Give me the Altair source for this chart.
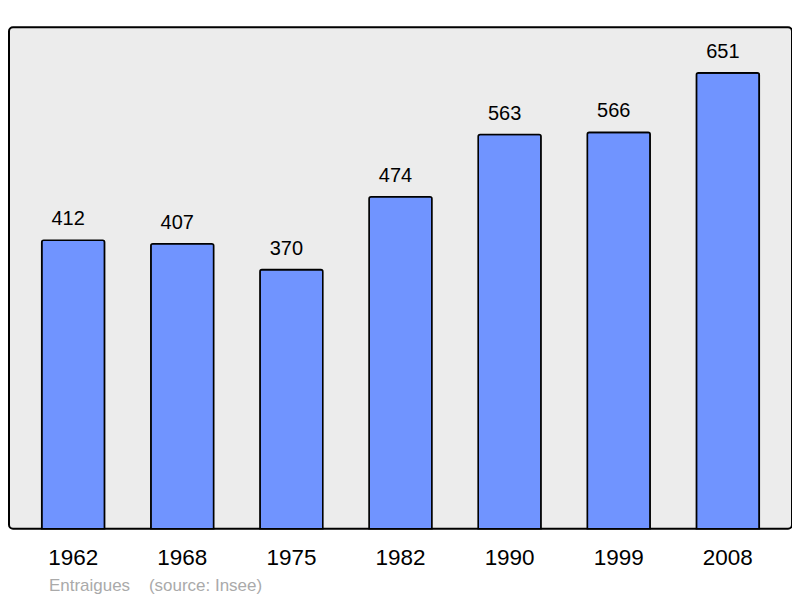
import pandas as pd
import altair as alt

years = ["1962", "1968", "1975", "1982", "1990", "1999", "2008"]
population = [412, 407, 370, 474, 563, 566, 651]

df = pd.DataFrame({"year": years, "pop": population})

x = alt.X("year:N", sort=years, title=None,
          scale=alt.Scale(paddingInner=0.424, paddingOuter=0.3),
          axis=alt.Axis(domain=False, ticks=False, labelAngle=0, labelFontSize=22.5,
                        labelFont="Liberation Sans", labelColor="#000000",
                        labelPadding=36, labelBaseline="alphabetic"))
y = alt.Y("pop:Q", scale=alt.Scale(domain=[0, 716], nice=False), axis=None)

bars = alt.Chart(df).mark_bar(
    color="#7094ff", stroke="#000000", strokeWidth=1.6,
    cornerRadiusTopLeft=2, cornerRadiusTopRight=2
).encode(x=x, y=y)

labels = alt.Chart(df).mark_text(
    baseline="alphabetic", dx=-5, dy=-15, fontSize=20, font="Liberation Sans", color="#000000"
).encode(x=x, y=y, text="pop:Q")

chart = (bars + labels).properties(
    width=784, height=502,
    autosize=alt.AutoSizeParams(type="none"),
    padding={"left": 1, "top": 19, "right": 0, "bottom": 70},
    title=alt.TitleParams(
        "Entraigues\u00a0\u00a0\u00a0\u00a0(source: Insee)",
        orient="bottom", anchor="start", dx=40, offset=9,
        fontSize=17, font="Liberation Sans", fontWeight="normal", color="#aaaaaa"
    )
).configure_view(stroke="#000000", strokeWidth=2, fill="#ececec", cornerRadius=4)

chart.save("out.html", embed_options={"renderer": "svg", "actions": False})
